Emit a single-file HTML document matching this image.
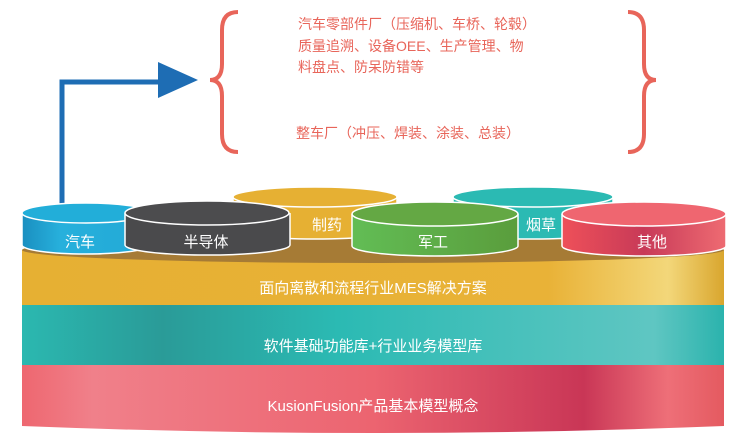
<!DOCTYPE html>
<html><head><meta charset="utf-8"><style>
html,body{margin:0;padding:0;background:#fff;}
svg{display:block;font-family:"Liberation Sans","Noto Sans CJK SC",sans-serif;}
</style></head><body>
<svg width="748" height="439" viewBox="0 0 748 439" xmlns="http://www.w3.org/2000/svg">
<defs>
<linearGradient id="gold" x1="0" x2="1"><stop offset="0" stop-color="#e6b033"/><stop offset="0.75" stop-color="#e9b237"/><stop offset="0.92" stop-color="#f3d77a"/><stop offset="1" stop-color="#d9a62e"/></linearGradient>
<linearGradient id="teal" x1="0" x2="1"><stop offset="0" stop-color="#2bb8b0"/><stop offset="0.2" stop-color="#2a9b98"/><stop offset="0.45" stop-color="#2bbab3"/><stop offset="0.9" stop-color="#5fc6c2"/><stop offset="1" stop-color="#2bb3ad"/></linearGradient>
<linearGradient id="red" x1="0" x2="1"><stop offset="0" stop-color="#ee6770"/><stop offset="0.1" stop-color="#f0808a"/><stop offset="0.5" stop-color="#ec6470"/><stop offset="0.8" stop-color="#c93656"/><stop offset="0.92" stop-color="#ee6f78"/><stop offset="1" stop-color="#e45a60"/></linearGradient>
<linearGradient id="cb" x1="0" x2="1"><stop offset="0" stop-color="#1a8fc0"/><stop offset="0.3" stop-color="#27b0dc"/><stop offset="1" stop-color="#22a9d6"/></linearGradient>
<linearGradient id="cr" x1="0" x2="1"><stop offset="0" stop-color="#ee5059"/><stop offset="0.5" stop-color="#c83a58"/><stop offset="1" stop-color="#ee6b72"/></linearGradient>
<linearGradient id="cg" x1="0" x2="1"><stop offset="0" stop-color="#62bd55"/><stop offset="1" stop-color="#5a9d3c"/></linearGradient>
</defs>
<!-- arrow -->
<polyline points="62,210 62,82 165,82" fill="none" stroke="#1e6db4" stroke-width="5"/>
<polygon points="158,62 198,80 158,98" fill="#1e6db4"/>
<!-- braces -->
<path d="M238,12 Q222,12 222,30 L222,64 Q222,80 210,80 Q222,80 222,96 L222,134 Q222,152 238,152" fill="none" stroke="#e8655a" stroke-width="4"/>
<path d="M628,12 Q644,12 644,30 L644,64 Q644,80 656,80 Q644,80 644,96 L644,134 Q644,152 628,152" fill="none" stroke="#e8655a" stroke-width="4"/>
<g fill="#e8655a" font-size="14">
<text x="298" y="29">汽车零部件厂（压缩机、车桥、轮毂）</text>
<text x="298" y="51">质量追溯、设备OEE、生产管理、物</text>
<text x="298" y="72">料盘点、防呆防错等</text>
<text x="296" y="138">整车厂（冲压、焊装、涂装、总装）</text>
</g>
<!-- main cylinder -->
<path d="M22,365 L22,426 Q373,440 724,426 L724,365 Z" fill="url(#red)"/>
<rect x="22" y="305" width="702" height="60" fill="url(#teal)"/>
<path d="M22,250 L22,305 L724,305 L724,250 Z" fill="url(#gold)"/>
<ellipse cx="373" cy="250" rx="351" ry="13" fill="#a67b35"/>
<g fill="#fff" font-size="15" text-anchor="middle">
<text x="373" y="293">面向离散和流程行业MES解决方案</text>
<text x="373" y="351">软件基础功能库+行业业务模型库</text>
<text x="373" y="411">KusionFusion产品基本模型概念</text>
</g>
<!-- small cylinders -->
<g stroke="#fff" stroke-width="1.5">
<path d="M233,197 L233,230 A82,9 0 0 0 397,230 L397,197" fill="#e6b033"/><ellipse cx="315" cy="197" rx="82" ry="10" fill="#e6b033"/>
<path d="M453,197 L453,230 A80,9 0 0 0 613,230 L613,197" fill="#2bbab3"/><ellipse cx="533" cy="197" rx="80" ry="10" fill="#2bbab3"/>
<path d="M22,213 L22,245 A64,9 0 0 0 150,245 L150,213" fill="url(#cb)"/><ellipse cx="86" cy="213" rx="64" ry="10" fill="#22aed9"/>
<path d="M125,213 L125,245 A82,10 0 0 0 290,245 L290,213" fill="#4a4a4c"/><ellipse cx="207" cy="213" rx="82" ry="12" fill="#4c4c4e"/>
<path d="M352,214 L352,246 A83,10 0 0 0 518,246 L518,214" fill="url(#cg)"/><ellipse cx="435" cy="214" rx="83" ry="12" fill="#64a844"/>
<path d="M562,214 L562,246 A82,10 0 0 0 726,246 L726,214" fill="url(#cr)"/><ellipse cx="644" cy="214" rx="82" ry="12" fill="#ef6670"/>
</g>
<g fill="#fff" font-size="15" text-anchor="middle">
<text x="80" y="247">汽车</text>
<text x="206" y="247">半导体</text>
<text x="327" y="230">制药</text>
<text x="433" y="247">军工</text>
<text x="541" y="230">烟草</text>
<text x="652" y="247">其他</text>
</g>
</svg>
</body></html>
